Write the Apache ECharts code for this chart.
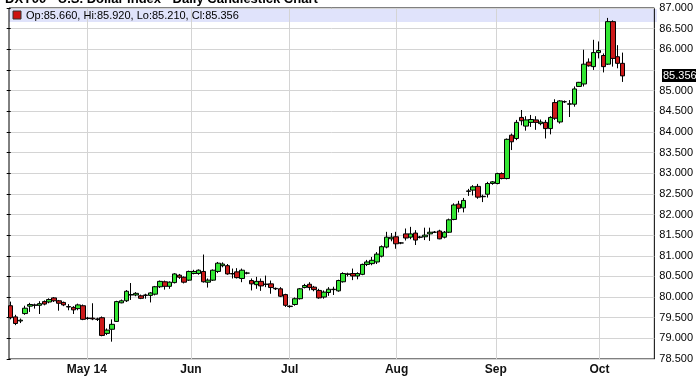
<!DOCTYPE html>
<html>
<head>
<meta charset="utf-8">
<script src="https://cdn.jsdelivr.net/npm/echarts@6/dist/echarts.min.js"></script>
<style>html,body{margin:0;padding:0;background:#fff;}#c{width:696px;height:376px;}</style>
</head>
<body>
<div id="c"></div>
<script>
// ---- data, one entry per trading day ----
const opens = [
79.79,79.52,79.42,79.60,79.78,79.81,79.80,79.89,79.88,79.98,
79.91,79.87,79.77,79.75,79.72,79.79,79.48,79.49,79.47,79.50,
79.12,79.22,79.41,79.86,79.91,80.05,80.05,80.03,80.05,80.04,
80.07,80.25,80.37,80.26,80.35,80.53,80.48,80.41,80.57,80.57,
80.62,80.36,80.41,80.62,80.76,80.76,80.57,80.61,80.45,80.58,
80.40,80.30,80.38,80.31,80.32,80.21,80.20,80.06,79.78,79.82,
79.96,80.23,80.31,80.24,80.16,80.00,80.11,80.19,80.15,80.37,
80.56,80.57,80.51,80.55,80.79,80.81,80.85,80.99,81.21,81.41,
81.46,81.31,81.53,81.45,81.55,81.45,81.46,81.53,81.57,81.60,
81.45,81.57,81.88,82.25,82.16,82.56,82.59,82.68,82.43,82.49,
82.75,82.75,82.99,82.87,83.92,83.84,84.35,84.14,84.23,84.29,
84.20,84.23,84.08,84.71,84.24,84.73,84.67,84.67,85.10,85.16,
85.69,85.58,85.92,85.85,85.64,86.67,85.82,85.660];
const closes = [
79.50,79.36,79.44,79.73,79.82,79.80,79.84,79.83,79.94,79.91,
79.85,79.81,79.76,79.69,79.81,79.46,79.49,79.47,79.46,79.07,
79.20,79.34,79.89,79.91,80.14,80.06,80.09,79.97,80.04,80.10,
80.25,80.38,80.26,80.36,80.56,80.48,80.36,80.62,80.62,80.65,
80.37,80.41,80.65,80.82,80.80,80.56,80.56,80.47,80.65,80.58,
80.32,80.38,80.27,80.31,80.23,80.20,80.02,79.80,79.77,79.96,
80.20,80.28,80.23,80.18,79.98,80.12,80.19,80.18,80.40,80.57,
80.55,80.51,80.57,80.79,80.85,80.89,81.04,81.22,81.45,81.45,
81.29,81.31,81.43,81.53,81.38,81.45,81.50,81.57,81.57,81.41,
81.57,81.87,82.23,82.15,82.34,82.57,82.67,82.42,82.44,82.75,
82.79,82.99,82.87,83.82,83.76,84.23,84.27,84.29,84.30,84.23,
84.24,84.08,84.35,84.33,84.75,84.73,84.68,85.04,85.20,85.64,
85.60,85.92,85.97,85.58,86.67,85.78,85.66,85.356];
const lows = [
79.46,79.32,79.37,79.57,79.64,79.72,79.59,79.80,79.85,79.88,
79.67,79.78,79.68,79.59,79.68,79.44,79.45,79.44,79.42,79.05,
79.08,78.92,79.40,79.85,79.88,79.93,80.02,79.95,79.96,79.87,
80.04,80.22,80.18,80.20,80.33,80.44,80.33,80.39,80.55,80.54,
80.35,80.23,80.39,80.58,80.72,80.54,80.45,80.45,80.36,80.55,
80.16,80.20,80.15,80.24,80.08,80.17,80.00,79.76,79.74,79.79,
79.94,80.21,80.16,80.14,79.96,79.96,80.03,80.05,80.13,80.35,
80.50,80.41,80.43,80.53,80.75,80.77,80.80,80.96,81.18,81.35,
81.17,81.28,81.37,81.40,81.26,81.42,81.38,81.36,81.55,81.40,
81.42,81.55,81.86,82.05,82.05,82.45,82.46,82.38,82.30,82.41,
82.72,82.73,82.85,82.85,83.56,83.80,84.16,84.03,84.12,84.05,
84.16,83.84,83.94,84.29,84.20,84.70,84.36,84.61,85.09,85.10,
85.58,85.50,85.78,85.44,85.62,85.58,85.54,85.210];
const highs = [
79.89,79.57,79.48,79.79,79.86,79.84,79.90,79.92,79.97,80.00,
79.93,79.89,79.83,79.78,79.84,79.82,79.52,79.85,79.50,79.53,
79.24,79.46,79.91,79.94,80.17,80.34,80.12,80.06,80.08,80.12,
80.27,80.40,80.40,80.38,80.58,80.56,80.50,80.64,80.66,80.67,
81.03,80.45,80.67,80.85,80.84,80.80,80.69,80.70,80.69,80.61,
80.45,80.49,80.45,80.52,80.40,80.23,80.24,80.08,79.80,79.99,
80.22,80.32,80.36,80.27,80.20,80.16,80.24,80.25,80.42,80.60,
80.59,80.69,80.60,80.81,80.90,80.97,81.09,81.25,81.58,81.55,
81.58,81.33,81.66,81.70,81.62,81.48,81.68,81.68,81.60,81.63,
81.60,81.90,82.27,82.33,82.40,82.62,82.71,82.74,82.48,82.79,
82.81,83.01,83.02,83.84,83.96,84.29,84.53,84.38,84.41,84.38,
84.30,84.29,84.38,84.79,84.77,84.76,84.77,85.10,85.21,85.99,
85.78,86.23,86.19,85.90,86.76,86.70,86.10,85.920];
// month gridline / label positions (in trading-day index units) and their labels
const monthTicks = [15.8, 37.4, 57.9, 80.1, 100.7, 122.2];
const monthLabels = ['May 14', 'Jun', 'Jul', 'Aug', 'Sep', 'Oct'];
const titleText = 'DXY00 - U.S. Dollar Index - Daily Candlestick Chart';

// ---- build ----
const n = opens.length;
const candles = opens.map((o, i) => [i, o, closes[i], lows[i], highs[i]]);
const last = n - 1;
const lastClose = closes[last];
const legendText = 'Op:' + opens[last].toFixed(3) + ', Hi:' + highs[last].toFixed(3) +
  ', Lo:' + lows[last].toFixed(3) + ', Cl:' + lastClose.toFixed(3);

const chart = echarts.init(document.getElementById('c'), null, {renderer: 'canvas'});
const FONT = '"Liberation Sans", Arial, sans-serif';
const GRID = {left: 9, right: 39, top: 8, bottom: 17};
chart.setOption({
  animation: false,
  backgroundColor: '#fff',
  grid: Object.assign({show: true, borderColor: '#000', borderWidth: 1, backgroundColor: 'transparent'}, GRID),
  xAxis: {
    type: 'value', min: -0.35, max: 133.6,
    axisLine: {show: false},
    axisTick: {show: false, customValues: monthTicks},
    axisLabel: {
      customValues: monthTicks, margin: 5,
      formatter: v => { const k = monthTicks.indexOf(v); return k >= 0 ? monthLabels[k] : ''; },
      fontFamily: '"Liberation Sans Narrow", "Liberation Sans", Arial, sans-serif', fontWeight: 'bold', fontSize: 12, color: '#111'
    },
    splitLine: {show: true, lineStyle: {color: '#d4d4d4', width: 1}}
  },
  yAxis: {
    type: 'value', position: 'right', min: 78.5, max: 87, interval: 0.5, scale: true,
    axisLine: {show: false},
    axisTick: {show: true, inside: true, length: 4, lineStyle: {color: '#000'}},
    axisLabel: {
      margin: 5, fontFamily: FONT, fontSize: 11, color: '#000',
      formatter: v => Math.abs(v - lastClose) < 0.2 ? '' : v.toFixed(3)
    },
    splitLine: {show: true, lineStyle: {color: '#d4d4d4', width: 1}}
  },
  series: [{
    type: 'candlestick',
    data: candles,
    encode: {x: 0, y: [1, 2, 3, 4]},
    barWidth: 5,
    itemStyle: {color: '#33e633', color0: '#cc1a1a', borderColor: '#000', borderColor0: '#000', borderWidth: 1}
  }]
});

// last-price box on the right axis, positioned through the y axis scale
const yLast = chart.convertToPixel({yAxisIndex: 0}, lastClose);
const rightEdge = 696 - GRID.right;
chart.setOption({
  graphic: [
    {type: 'rect', z: -1, shape: {x: GRID.left, y: GRID.top + 1, width: rightEdge - GRID.left, height: 13}, style: {fill: 'rgba(214,218,250,0.75)'}},
    {type: 'rect', z: 10, shape: {x: 13, y: 11, width: 8, height: 8}, style: {fill: '#cc1111', stroke: '#333', lineWidth: 1}},
    {type: 'text', z: 10, x: 26, y: 15.5, style: {text: legendText, font: '11px ' + FONT, fill: '#000', verticalAlign: 'middle'}},
    {type: 'text', z: 10, x: 5, y: 6, style: {text: titleText, font: 'bold 13px ' + FONT, fill: '#000', verticalAlign: 'bottom'}},
    {type: 'rect', z: 20, shape: {x: rightEdge + 5, y: Math.round(yLast) - 7, width: 34, height: 13}, style: {fill: '#000'}},
    {type: 'text', z: 21, x: rightEdge + 6, y: Math.round(yLast), style: {text: lastClose.toFixed(3), font: '11px ' + FONT, fill: '#fff', verticalAlign: 'middle'}}
  ]
});
</script>
</body>
</html>
